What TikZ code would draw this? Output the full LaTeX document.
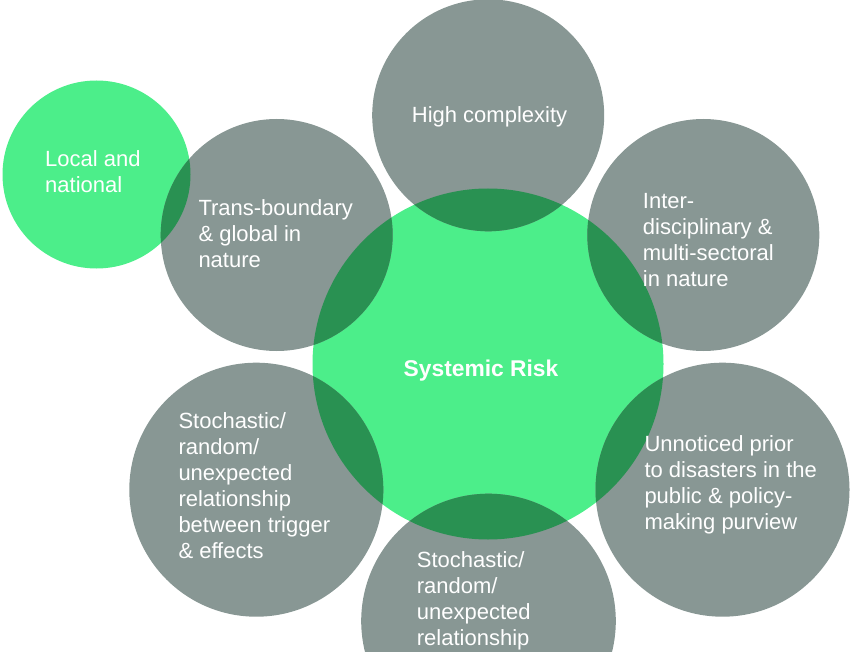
\documentclass[tikz,border=0pt]{standalone}
\usepackage{fontspec}
\setmainfont{Liberation Sans}
\definecolor{riskgreen}{RGB}{76,238,138}
\definecolor{riskgray}{RGB}{136,151,148}
\definecolor{riskdark}{RGB}{41,145,82}
\newcommand{\mylines}[1]{\vtop{\baselineskip=26pt\lineskiplimit=-20pt\halign{##\hfil\cr #1\crcr}}}
\tikzset{
  label text/.style={anchor=base west, inner sep=0pt, text=white,
    font=\fontsize{22}{26}\selectfont},
  title text/.style={anchor=base, inner sep=0pt, text=white,
    font=\fontsize{22.8}{26}\selectfont\bfseries}
}
\begin{document}
\begin{tikzpicture}[x=1pt,y=-1pt]
\useasboundingbox (0,0) rectangle (850,652);
\begin{scope}
\clip (0,0) rectangle (850,652);
% green circles
\fill[riskgreen] (96.5,174.5) circle (94);
\fill[riskgreen] (488,364) circle (175.5);
% gray circles
\fill[riskgray] (276.7,235) circle (116);
\fill[riskgray] (488.2,115.3) circle (116);
\fill[riskgray] (703.3,235) circle (116);
\fill[riskgray] (256.3,489.7) circle (127);
\fill[riskgray] (722.5,489.7) circle (127);
\fill[riskgray] (488.5,621) circle (127.3);
% overlaps
\begin{scope}
\clip (96.5,174.5) circle (94);
\fill[riskdark] (276.7,235) circle (116);
\end{scope}
\begin{scope}
\clip (488,364) circle (175.5);
\fill[riskdark] (276.7,235) circle (116);
\fill[riskdark] (488.2,115.3) circle (116);
\fill[riskdark] (703.3,235) circle (116);
\fill[riskdark] (256.3,489.7) circle (127);
\fill[riskdark] (722.5,489.7) circle (127);
\fill[riskdark] (488.5,621) circle (127.3);
\end{scope}
\end{scope}
% texts
\node[label text] (local) at (45,166.7) {\mylines{Local and\cr national}};
\node[label text] (trans) at (198.3,215) {\mylines{Trans-boundary\cr \& global in\cr nature}};
\node[label text] (high) at (411.7,122.7) {High complexity};
\node[label text] (inter) at (642.7,208.3) {\mylines{Inter-\cr disciplinary \&\cr multi-sectoral\cr in nature}};
\node[title text] (risk) at (481,376) {Systemic Risk};
\node[label text] (stochl) at (178.3,428.3) {\mylines{Stochastic/\cr random/\cr unexpected\cr relationship\cr between trigger\cr \& effects}};
\node[label text] (unnot) at (644.3,451.7) {\mylines{Unnoticed prior\cr to disasters in the\cr public \& policy-\cr making purview}};
\node[label text] (stochb) at (416.7,567.3) {\mylines{Stochastic/\cr random/\cr unexpected\cr relationship}};
\end{tikzpicture}
\end{document}
